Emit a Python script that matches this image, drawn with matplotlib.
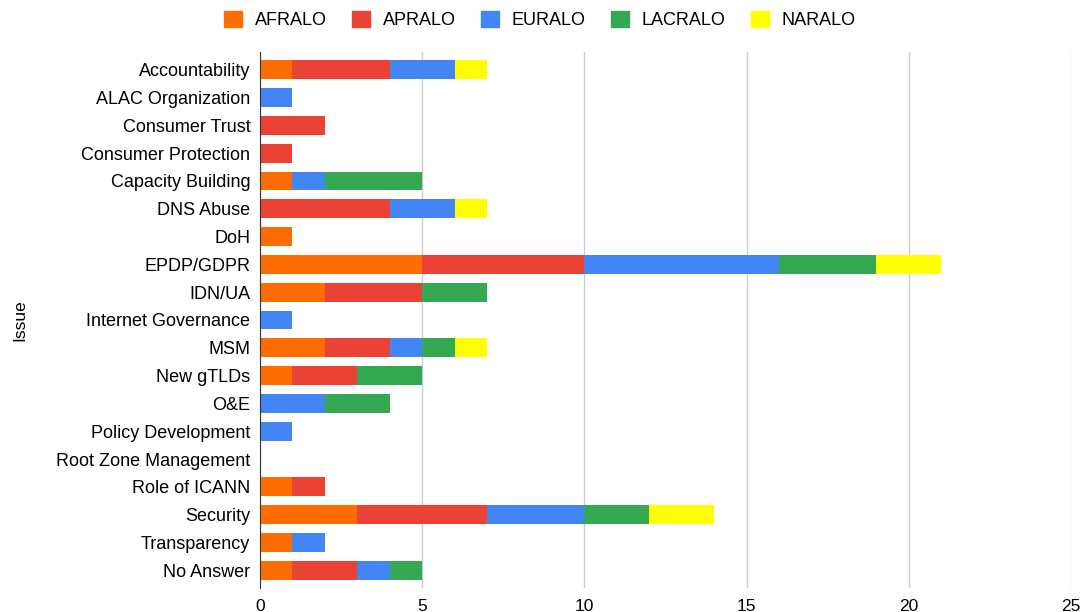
import matplotlib.pyplot as plt
import numpy as np

issues = ["Accountability", "ALAC Organization", "Consumer Trust", "Consumer Protection",
          "Capacity Building", "DNS Abuse", "DoH", "EPDP/GDPR", "IDN/UA",
          "Internet Governance", "MSM", "New gTLDs", "O&E", "Policy Development",
          "Root Zone Management", "Role of ICANN", "Security", "Transparency", "No Answer"]
series_names = ["AFRALO", "APRALO", "EURALO", "LACRALO", "NARALO"]
afralo  = [1, 0, 0, 0, 1, 0, 1, 5, 2, 0, 2, 1, 0, 0, 0, 1, 3, 1, 1]
apralo  = [3, 0, 2, 1, 0, 4, 0, 5, 3, 0, 2, 2, 0, 0, 0, 1, 4, 0, 2]
euralo  = [2, 1, 0, 0, 1, 2, 0, 6, 0, 1, 1, 0, 2, 1, 0, 0, 3, 1, 1]
lacralo = [0, 0, 0, 0, 3, 0, 0, 3, 2, 0, 1, 2, 2, 0, 0, 0, 2, 0, 1]
naralo  = [1, 0, 0, 0, 0, 1, 0, 2, 0, 0, 1, 0, 0, 0, 0, 0, 2, 0, 0]
colors = ["#ff6d01", "#ea4335", "#4285f4", "#34a853", "#ffff00"]
xticks = [0, 5, 10, 15, 20, 25]

plt.rcParams['font.family'] = ['Liberation Sans', 'DejaVu Sans']
fig = plt.figure(figsize=(10.84, 6.12), dpi=100)
ax = fig.add_axes([260/1084, 1-588/612, (1071-260)/1084, (588-52)/612])

y = np.arange(len(issues))
left = np.zeros(len(issues))
for name, vals, c in zip(series_names, [afralo, apralo, euralo, lacralo, naralo], colors):
    v = np.array(vals, dtype=float)
    ax.barh(y, v, left=left, height=0.68, color=c, label=name, zorder=3)
    left += v

m = 0.14
ax.set_ylim(len(issues) - 0.5 + m, -0.5 - m)
ax.set_yticks(y)
ax.set_yticklabels(issues, fontsize=13)
ax.set_xlim(0, 25)
ax.set_xticks(xticks)
ax.set_xticklabels([str(t) for t in xticks], fontsize=12.5)
ax.tick_params(axis='y', length=0, pad=7)
ax.tick_params(axis='x', length=0, pad=8)
ax.grid(axis='x', color='#cccccc', linewidth=1, zorder=0)
for s in ['top', 'right', 'bottom']:
    ax.spines[s].set_visible(False)
ax.spines['left'].set_color('#333333')
ax.spines['left'].set_zorder(4)
ax.set_ylabel("Issue", fontsize=12.5)
ax.yaxis.set_label_coords(-233/811, 0.5)

handles = [plt.Rectangle((0, 0), 1, 1, color=c) for c in colors]
fig.legend(handles, series_names, loc='center', bbox_to_anchor=(540/1084, 1-20/612), ncol=5,
           frameon=False, fontsize=13, handlelength=1.0, handleheight=1.0,
           columnspacing=1.4, handletextpad=0.7)

fig.savefig("out.png", dpi=100)
